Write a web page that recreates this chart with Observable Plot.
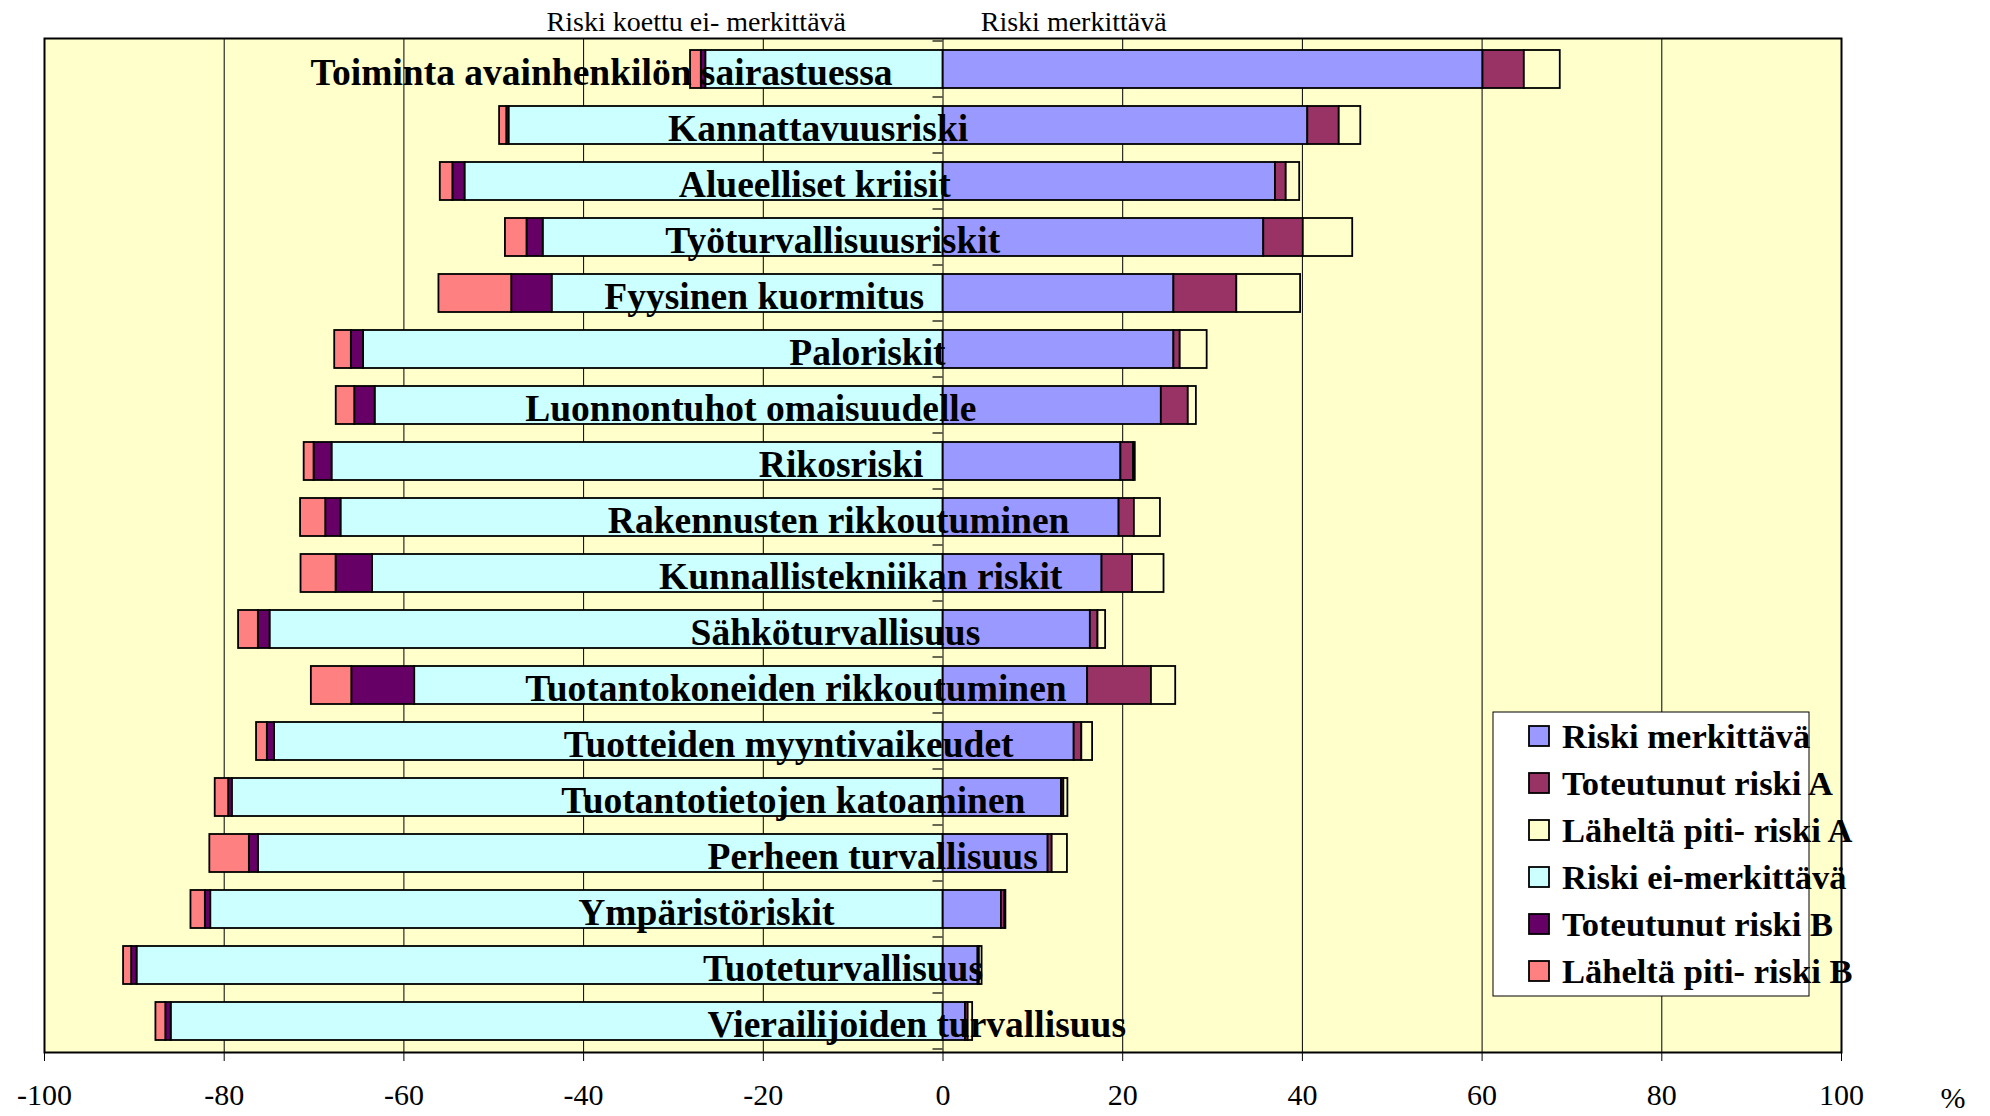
<!DOCTYPE html>
<html>
<head>
<meta charset="utf-8">
<script src="https://cdn.jsdelivr.net/npm/d3@7"></script>
<script src="https://cdn.jsdelivr.net/npm/@observablehq/plot@0.6"></script>
<style>
  html, body { margin: 0; padding: 0; background: #ffffff; }
  #chart { position: relative; width: 1990px; height: 1116px; }
  #chart svg text { font-family: 'Liberation Serif', 'Times New Roman', serif; }
</style>
</head>
<body>
<div id="chart"></div>
<script>
// ---- Data (percent of respondents) ----
const categories = [
  "Toiminta avainhenkilön sairastuessa",
  "Kannattavuusriski",
  "Alueelliset kriisit",
  "Työturvallisuusriskit",
  "Fyysinen kuormitus",
  "Paloriskit",
  "Luonnontuhot omaisuudelle",
  "Rikosriski",
  "Rakennusten rikkoutuminen",
  "Kunnallistekniikan riskit",
  "Sähköturvallisuus",
  "Tuotantokoneiden rikkoutuminen",
  "Tuotteiden myyntivaikeudet",
  "Tuotantotietojen katoaminen",
  "Perheen turvallisuus",
  "Ympäristöriskit",
  "Tuoteturvallisuus",
  "Vierailijoiden turvallisuus"
];

// Right side (risk considered significant)
const riskiMerkittava    = [60.1, 40.6, 37.0, 35.7, 25.7, 25.7, 24.3, 19.8, 19.6, 17.7, 16.4, 16.1, 14.6, 13.2, 11.7, 6.5, 3.9, 2.5];
const toteutunutRiskiA   = [4.6, 3.5, 1.2, 4.4, 7.0, 0.7, 3.0, 1.4, 1.7, 3.4, 0.85, 7.1, 0.85, 0.25, 0.45, 0.4, 0.15, 0.3];
const lahelta_pitiRiskiA = [4.0, 2.4, 1.5, 5.5, 7.1, 3.0, 0.9, 0.2, 2.9, 3.5, 0.85, 2.7, 1.2, 0.45, 1.7, 0.1, 0.3, 0.5];

// Left side (risk considered not significant), plotted as negative values
const riskiEiMerkittava  = [-26.4, -48.3, -53.2, -44.5, -43.5, -64.5, -63.2, -68.0, -67.0, -63.5, -74.9, -58.8, -74.4, -79.1, -76.2, -81.5, -89.7, -85.9];
const toteutunutRiskiB   = [-0.5, -0.25, -1.35, -1.8, -4.5, -1.35, -2.27, -2.0, -1.7, -4.05, -1.3, -7.0, -0.8, -0.4, -1.0, -0.6, -0.6, -0.6];
const lahelta_pitiRiskiB = [-1.2, -0.8, -1.4, -2.4, -8.1, -1.85, -2.06, -1.1, -2.8, -3.9, -2.2, -4.5, -1.2, -1.5, -4.4, -1.6, -0.9, -1.1];

// Where each category text starts on the x axis (percent units)
const labelStart = [-70.4, -30.6, -29.4, -30.9, -37.7, -17.1, -46.5, -20.5, -37.3, -31.6, -28.1, -46.5, -42.2, -42.5, -26.2, -40.6, -26.7, -26.2];

const seriesNames = [
  "Riski merkittävä",
  "Toteutunut riski A",
  "Läheltä piti- riski A",
  "Riski ei-merkittävä",
  "Toteutunut riski B",
  "Läheltä piti- riski B"
];
const seriesColors = ["#9999FF", "#993366", "#FFFFCC", "#CCFFFF", "#660066", "#FF8080"];
const seriesValues = [riskiMerkittava, toteutunutRiskiA, lahelta_pitiRiskiA, riskiEiMerkittava, toteutunutRiskiB, lahelta_pitiRiskiB];

const xTicks = d3.range(-100, 101, 20);
const headerLeft = "Riski koettu ei- merkittävä";
const headerRight = "Riski merkittävä";
const unitLabel = "%";

// ---- Build long table ----
const rows = [];
categories.forEach((cat, i) => {
  seriesNames.forEach((s, k) => {
    rows.push({cat, series: s, value: seriesValues[k][i]});
  });
});
const labels = categories.map((cat, i) => ({cat, x: labelStart[i]}));

const W = 1990, H = 1116;
const serif = "'Liberation Serif', 'Times New Roman', serif";

const plot = Plot.plot({
  width: W,
  height: H,
  marginLeft: 44,
  marginRight: 149,
  marginTop: 38,
  marginBottom: 64,
  style: {fontFamily: serif, fontSize: "30px", color: "black", background: "transparent", overflow: "visible"},
  x: {domain: [-100, 100], label: null, axis: null},
  y: {domain: categories, paddingInner: 0.33, paddingOuter: 0.165, axis: null},
  color: {domain: seriesNames, range: seriesColors},
  marks: [
    Plot.frame({fill: "#FFFFCC", stroke: null}),
    Plot.ruleX(xTicks.filter(d => d > -100 && d < 100), {stroke: "#000", strokeWidth: 1}),
    Plot.barX(rows, Plot.stackX({
      x: "value",
      y: "cat",
      fill: "series",
      order: seriesNames,
      stroke: "#000",
      strokeWidth: 1.8
    })),
    Plot.text(labels, {
      x: "x",
      y: "cat",
      text: "cat",
      textAnchor: "start",
      fontWeight: "bold",
      fontSize: 37.5,
      fill: "#000",
      dy: 3
    }),
    Plot.frame({stroke: "#000", strokeWidth: 2}),
    Plot.axisX({
      ticks: xTicks,
      tickFormat: d => String(d),
      tickSize: 9,
      tickPadding: 22,
      fontSize: 30,
      fontFamily: serif,
      stroke: "#000",
      fill: "#000",
      label: null
    })
  ]
});

document.getElementById("chart").appendChild(plot);

// ---- Extra annotations ----
const svg = d3.select(plot);
const xs = plot.scale("x");
const ys = plot.scale("y");
const x0 = xs.apply(0);

// small category ticks at x = 0 between bands
const y0 = ys.apply(categories[0]);
const y1 = ys.apply(categories[1]);
const step = y1 - y0;
const bw = ys.bandwidth;
const boundaries = [];
for (let i = 0; i <= categories.length; i++) {
  boundaries.push(y0 - (step - bw) / 2 + i * step);
}
svg.append("g")
  .selectAll("line")
  .data(boundaries)
  .join("line")
  .attr("x1", x0 - 10).attr("x2", x0)
  .attr("y1", d => d).attr("y2", d => d)
  .attr("stroke", "#000").attr("stroke-width", 1.2);

// header labels
svg.append("text")
  .attr("x", xs.apply(-27.4)).attr("y", 31)
  .attr("text-anchor", "middle")
  .attr("font-family", serif).attr("font-size", 28)
  .text(headerLeft);
svg.append("text")
  .attr("x", xs.apply(14.6)).attr("y", 31)
  .attr("text-anchor", "middle")
  .attr("font-family", serif).attr("font-size", 28)
  .text(headerRight);

// unit label
svg.append("text")
  .attr("x", 1953).attr("y", 1108)
  .attr("text-anchor", "middle")
  .attr("font-family", serif).attr("font-size", 30)
  .text(unitLabel);

// legend
const lg = svg.append("g").attr("transform", "translate(1493,712)");
lg.append("rect")
  .attr("width", 316).attr("height", 284)
  .attr("fill", "#fff").attr("stroke", "#000").attr("stroke-width", 1);
seriesNames.forEach((s, k) => {
  const cy = 24 + k * 47;
  lg.append("rect")
    .attr("x", 36).attr("y", cy - 10).attr("width", 20).attr("height", 20)
    .attr("fill", seriesColors[k]).attr("stroke", "#000").attr("stroke-width", 1.8);
  lg.append("text")
    .attr("x", 69).attr("y", cy + 12)
    .attr("text-anchor", "start")
    .attr("font-family", serif).attr("font-size", 34.5).attr("font-weight", "bold")
    .text(s);
});
</script>
</body>
</html>
